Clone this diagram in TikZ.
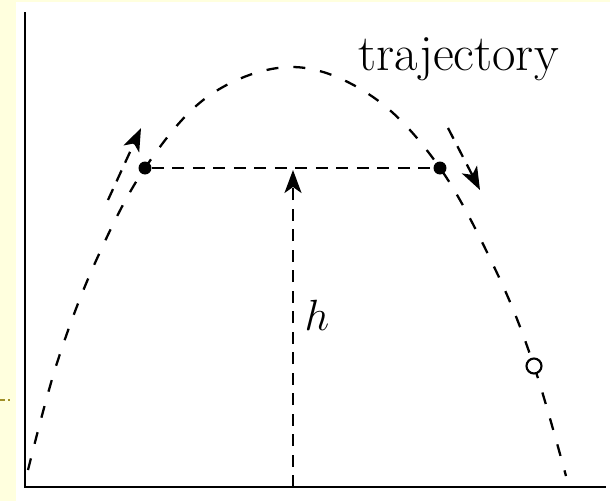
\documentclass[tikz,border=0pt]{standalone}
\definecolor{slideyellow}{RGB}{255, 255, 222}
\definecolor{slideolive}{RGB}{160, 144, 40}
\usepackage{tikz}
\usetikzlibrary{arrows.meta, positioning, calc}
\usepackage{amsmath, amssymb}

\begin{document}
\begin{tikzpicture}[x=0.02cm, y=-0.02cm,
    path/.style={line width=1.3pt, dash pattern=on 0.24cm off 0.3cm},
    guide/.style={line width=1.3pt, dash pattern=on 0.24cm off 0.17cm},
    motion/.style={guide, -{Stealth[length=0.46cm, width=0.34cm, inset=0.12cm]}},
    dot/.style={circle, fill=black, inner sep=0pt, minimum size=0.26cm},
    ring/.style={circle, draw=black, fill=white, line width=1.2pt, inner sep=0pt, minimum size=0.3cm}]
  \useasboundingbox (0,0) rectangle (610,501);
  \fill[slideyellow] (0,0) rectangle (610,501);
  \fill[white] (16,2) rectangle (610,501);
  \draw[slideolive, line width=1.5pt, dash pattern=on 0.1cm off 0.06cm] (0,400) -- (10,400);

  % axes
  \coordinate (top) at (25,12);
  \coordinate (origin) at (25,487);
  \coordinate (far) at (606,487);
  \draw[line width=1.2pt] (top) -- (origin) -- (far);

  % trajectory
  \draw[path] plot[smooth, tension=0.6] coordinates {(28,470) (57,363) (95,263) (145,168) (210,95)
    (293,67) (373,97) (440,168) (497,273) (534,366) (566,476)};
  \node[anchor=base west, inner sep=0pt, font=\fontsize{29}{34}\selectfont] (label) at (358,70) {trajectory};

  % points at equal height
  \node[dot] (rise) at (145,168) {};
  \node[dot] (fall) at (440,168) {};
  \node[ring] (ball) at (534,366) {};
  \draw[guide] (rise) -- (fall);

  % height
  \coordinate (foot) at (293,487);
  \coordinate (level) at (293,170);
  \draw[motion] (foot) -- (level);
  \node[font=\fontsize{27}{32}\selectfont] (height) at (317,315) {$h$};

  % directions of motion
  \coordinate (upA) at (108,200);
  \coordinate (upB) at (141,128);
  \coordinate (downA) at (448,128);
  \coordinate (downB) at (480,190);
  \draw[motion] (upA) -- (upB);
  \draw[motion] (downA) -- (downB);
\end{tikzpicture}
\end{document}
